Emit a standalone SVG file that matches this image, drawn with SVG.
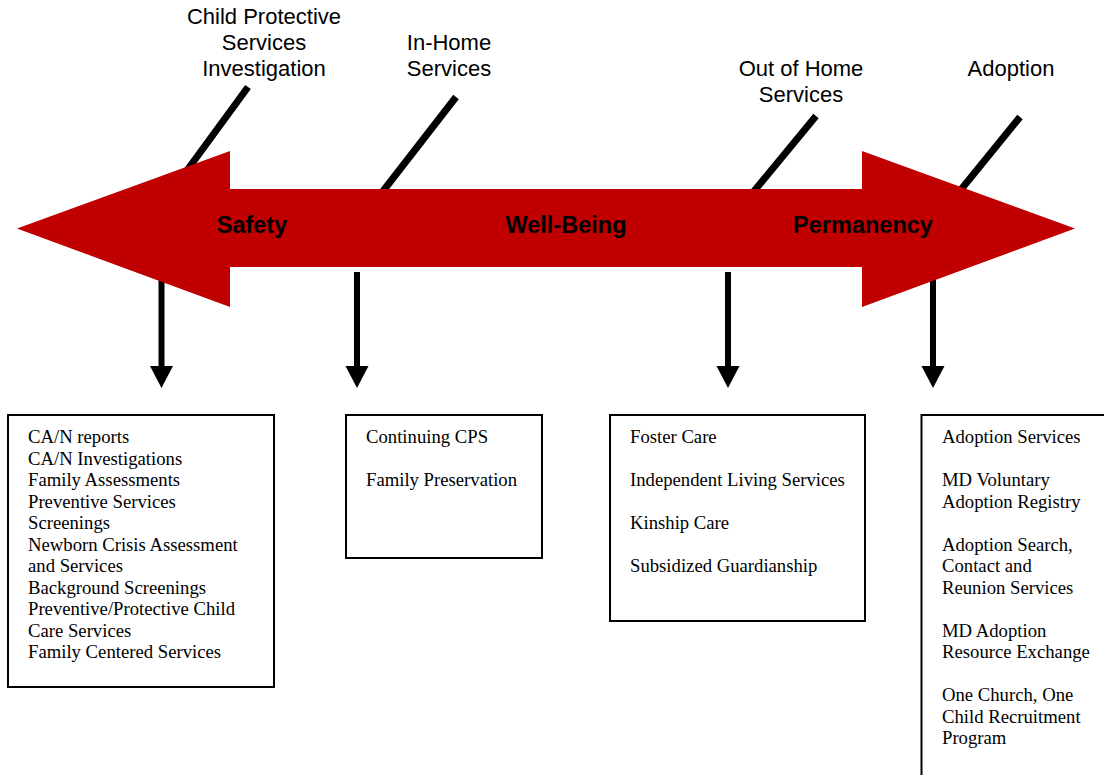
<svg xmlns="http://www.w3.org/2000/svg" width="1104" height="775" viewBox="0 0 1104 775">
<style>
.top{font-family:"Liberation Sans",Arial,sans-serif;font-size:22px;fill:#000;text-anchor:middle}
.bold{font-family:"Liberation Sans",Arial,sans-serif;font-size:23.5px;font-weight:bold;fill:#000;text-anchor:middle}
.item{font-family:"Liberation Serif","Times New Roman",serif;font-size:18.7px;fill:#000}
.box{fill:#fff;stroke:#000;stroke-width:2}
.diag{stroke:#000;stroke-width:7;fill:none}
.down{stroke:#000;stroke-width:6;fill:none}
</style>
<defs>
<marker id="ah" viewBox="0 0 24 22" refX="12" refY="22" markerWidth="24" markerHeight="22" markerUnits="userSpaceOnUse" orient="auto-start-reverse">
<path d="M0,0 L24,0 L12,22 Z" fill="#000"/>
</marker>
</defs>
<rect width="1104" height="775" fill="#fff"/>
<g id="connectors">
<line class="diag" x1="248" y1="87" x2="180" y2="180"/>
<line class="diag" x1="456" y1="97" x2="380" y2="195"/>
<line class="diag" x1="816" y1="116" x2="750" y2="196"/>
<line class="diag" x1="1020" y1="117" x2="955" y2="197"/>
<line class="down" x1="161.5" y1="260" x2="161.5" y2="366"/>
<path d="M150,366 L173,366 L161.5,388 Z" fill="#000"/>
<line class="down" x1="357" y1="272" x2="357" y2="366"/>
<path d="M345.5,366 L368.5,366 L357,388 Z" fill="#000"/>
<line class="down" x1="728" y1="272" x2="728" y2="366"/>
<path d="M716.5,366 L739.5,366 L728,388 Z" fill="#000"/>
<line class="down" x1="933" y1="270" x2="933" y2="366"/>
<path d="M921.5,366 L944.5,366 L933,388 Z" fill="#000"/>
</g>
<g id="main-arrow">
<path d="M17,228.5 L230,151 L230,189 L862,189 L862,151 L1075,228.5 L862,307 L862,267 L230,267 L230,307 Z" fill="#C00000"/>
<text class="bold" x="252" y="233">Safety</text>
<text class="bold" x="566" y="233">Well-Being</text>
<text class="bold" x="863" y="233">Permanency</text>
</g>
<g id="label-cps">
<text class="top" x="264" y="24">Child Protective</text>
<text class="top" x="264" y="50">Services</text>
<text class="top" x="264" y="76">Investigation</text>
</g>
<g id="label-inhome">
<text class="top" x="449" y="50">In-Home</text>
<text class="top" x="449" y="76">Services</text>
</g>
<g id="label-outofhome">
<text class="top" x="801" y="76">Out of Home</text>
<text class="top" x="801" y="102">Services</text>
</g>
<g id="label-adoption">
<text class="top" x="1011" y="76">Adoption</text>
</g>
<g id="box-safety">
<rect class="box" x="8" y="415" width="266" height="272"/>
<text class="item" x="28" y="443">CA/N reports</text>
<text class="item" x="28" y="464.5">CA/N Investigations</text>
<text class="item" x="28" y="486">Family Assessments</text>
<text class="item" x="28" y="507.5">Preventive Services</text>
<text class="item" x="28" y="529">Screenings</text>
<text class="item" x="28" y="550.5">Newborn Crisis Assessment</text>
<text class="item" x="28" y="572">and Services</text>
<text class="item" x="28" y="593.5">Background Screenings</text>
<text class="item" x="28" y="615">Preventive/Protective Child</text>
<text class="item" x="28" y="636.5">Care Services</text>
<text class="item" x="28" y="658">Family Centered Services</text>
</g>
<g id="box-inhome">
<rect class="box" x="346" y="415" width="196" height="143"/>
<text class="item" x="366" y="443">Continuing CPS</text>
<text class="item" x="366" y="486">Family Preservation</text>
</g>
<g id="box-outofhome">
<rect class="box" x="610" y="415" width="255" height="206"/>
<text class="item" x="630" y="443">Foster Care</text>
<text class="item" x="630" y="486">Independent Living Services</text>
<text class="item" x="630" y="529">Kinship Care</text>
<text class="item" x="630" y="572">Subsidized Guardianship</text>
</g>
<g id="box-adoption">
<rect class="box" x="921.5" y="415" width="200" height="380"/>
<text class="item" x="942" y="443">Adoption Services</text>
<text class="item" x="942" y="486">MD Voluntary</text>
<text class="item" x="942" y="507.5">Adoption Registry</text>
<text class="item" x="942" y="550.5">Adoption Search,</text>
<text class="item" x="942" y="572">Contact and</text>
<text class="item" x="942" y="593.5">Reunion Services</text>
<text class="item" x="942" y="636.5">MD Adoption</text>
<text class="item" x="942" y="658">Resource Exchange</text>
<text class="item" x="942" y="701">One Church, One</text>
<text class="item" x="942" y="722.5">Child Recruitment</text>
<text class="item" x="942" y="744">Program</text>
</g>
</svg>
